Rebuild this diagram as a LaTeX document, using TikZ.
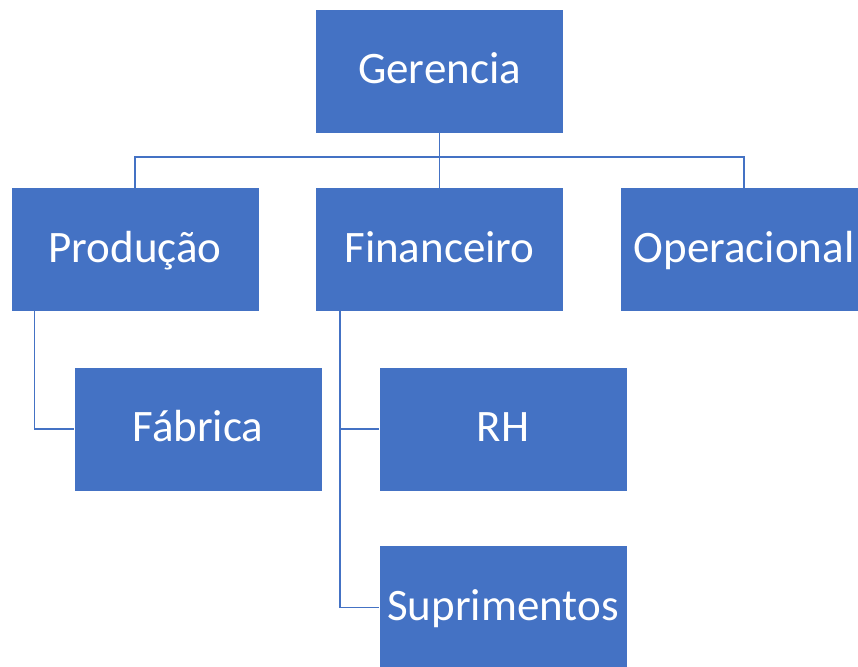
\documentclass[tikz,border=0pt]{standalone}
\usepackage{fontspec}
\setmainfont{Carlito}
\usepackage{tikz}
\usetikzlibrary{calc,positioning}
\definecolor{boxblue}{RGB}{68,114,196}
\definecolor{lineblue}{RGB}{68,114,196}

\begin{document}
\begin{tikzpicture}[x=1pt, y=-1pt,
    unit/.style={fill=boxblue, text=white, minimum width=247pt, minimum height=123pt,
      inner sep=0pt, text height=32pt, text depth=7pt, font=\fontsize{45}{48}\selectfont},
    link/.style={lineblue, line width=1.6pt}]
        \useasboundingbox (0,0) rectangle (858,666);
        \node[unit] (ger) at (439.5,71.5) {Gerencia};
        \node[unit] (prod) at (135,249.5) {Produção};
        \node[unit] (fin) at (439.5,249.5) {Financeiro};
        \node[unit] (oper) at (744,249.5) {Operacional};
        \node[unit] (fab) at (198,429) {Fábrica};
        \node[unit] (rh) at (503,429) {RH};
        \node[unit] (sup) at (503,607.5) {Suprimentos};
        \coordinate (bus) at (439.5,157);
        \draw[link] (ger.south) -- (ger.south |- bus) -| (prod.north);
        \draw[link] (ger.south |- bus) -- (fin.north);
        \draw[link] (ger.south |- bus) -| (oper.north);
        \draw[link] ([xshift=23pt]prod.south west) |- (fab.west);
        \draw[link] ([xshift=24pt]fin.south west) |- (rh.west);
        \draw[link] ([xshift=24pt]fin.south west) |- (sup.west);
      \end{tikzpicture}
\end{document}
